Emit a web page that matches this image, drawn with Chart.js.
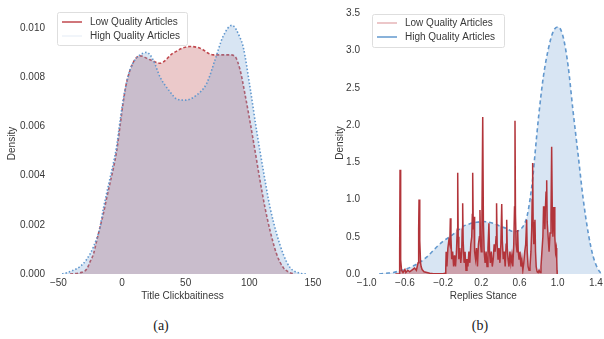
<!DOCTYPE html>
<html><head><meta charset="utf-8">
<script src="https://cdn.jsdelivr.net/npm/chart.js@4"></script>
<style>
html,body{margin:0;padding:0;background:#fff;width:604px;height:339px;overflow:hidden;}
#wa{position:absolute;left:0;top:0;width:325px;height:310px;}
#wb{position:absolute;left:330px;top:0;width:274px;height:310px;}
.cap{position:absolute;top:318px;font-family:"Liberation Serif",serif;font-size:14px;line-height:16px;color:#222;transform:translateX(-50%);}
</style></head><body>
<div id="wa"><canvas id="ca"></canvas></div>
<div id="wb"><canvas id="cb"></canvas></div>
<div class="cap" style="left:161px">(a)</div>
<div class="cap" style="left:480px">(b)</div>
<script>
// ---------- data ----------
const seriesNames = ["Low Quality Articles", "High Quality Articles"];
const xTitleA = "Title Clickbaitiness";
const xTitleB = "Replies Stance";
const yTitle = "Density";
const xTicksA = [-50, 0, 50, 100, 150];
const yTicksA = [0, 0.002, 0.004, 0.006, 0.008, 0.010];
const xTicksB = [-1.0, -0.6, -0.2, 0.2, 0.6, 1.0, 1.4];
const yTicksB = [0, 0.5, 1.0, 1.5, 2.0, 2.5, 3.0, 3.5];

// (a) Title clickbaitiness densities
const lowA = [[-40.8,0],[-33,0.00005],[-27.7,0.0002],[-25.1,0.0005],[-22.5,0.0008],[-19.9,0.00135],[-17.3,0.0019],[-14.7,0.00244],[-12,0.0031],[-9.4,0.0037],[-6.8,0.0043],[-4.2,0.005],[-1.6,0.006],[1,0.007],[3.7,0.0078],[8.9,0.0086],[14.1,0.00886],[22,0.0087],[29.9,0.00856],[40.1,0.00897],[53.4,0.00924],[61.3,0.00917],[71.5,0.0089],[84.8,0.0089],[88.8,0.00883],[92.7,0.0083],[96.6,0.0073],[100.5,0.0062],[104.5,0.005],[108.4,0.0038],[112.3,0.0027],[116.3,0.00176],[121.5,0.0008],[126.7,0.00026],[132,0.00005],[135.9,0]];
const highA = [[-47.1,0],[-43.4,0.00005],[-38.3,0.00015],[-33,0.0003],[-27.7,0.0006],[-22.5,0.0011],[-17.3,0.0019],[-14.7,0.00265],[-12,0.0033],[-9.4,0.0039],[-6.8,0.0045],[-4.2,0.0052],[-1.6,0.0062],[1,0.0071],[3.7,0.0078],[6.3,0.0083],[10.2,0.0087],[14.1,0.0089],[19.4,0.009],[24.4,0.0087],[29.9,0.008],[37.7,0.0074],[43.2,0.0071],[49.5,0.00706],[58.7,0.00727],[66.5,0.00774],[73.1,0.0087],[79.3,0.00964],[86.4,0.0101],[92.7,0.0096],[95.3,0.0092],[100.5,0.0076],[105.8,0.0058],[111,0.0042],[116.3,0.0027],[121.5,0.00163],[126.7,0.0008],[132,0.00026],[139.8,0.00003],[145.1,0]];

// (b) Replies stance densities
const lowB = [[-0.70,0],[-0.66,0],[-0.655,0.3],[-0.651,1.40],[-0.647,0.3],[-0.642,0.19],[-0.635,0.05],[-0.62,0.02],[-0.60,0.06],[-0.59,0.02],[-0.57,0.05],[-0.55,0.03],[-0.52,0.06],[-0.50,0.08],[-0.48,0.05],[-0.462,0.15],[-0.456,0.6],[-0.452,1.00],[-0.447,0.5],[-0.442,0.45],[-0.436,0.15],[-0.43,0.1],[-0.42,0.06],[-0.40,0.03],[-0.37,0.02],[-0.34,0.01],[-0.30,0.005],[-0.25,0.003],[-0.20,0.005],[-0.18,0.01],[-0.172,0.08],[-0.168,0.3],[-0.16,0.1],[-0.15,0.35],[-0.14,0.45],[-0.13,0.4],[-0.124,0.75],[-0.118,0.5],[-0.11,0.2],[-0.10,0.3],[-0.09,0.1],[-0.08,0.25],[-0.07,0.1],[-0.06,0.3],[-0.052,0.6],[-0.047,1.36],[-0.042,0.5],[-0.035,0.2],[-0.025,0.35],[-0.015,0.15],[-0.005,0.3],[0.0,0.6],[0.005,0.95],[0.01,0.45],[0.02,0.15],[0.03,0.3],[0.04,0.05],[0.05,0.2],[0.06,0.1],[0.07,0.3],[0.08,0.15],[0.09,0.4],[0.1,0.5],[0.106,0.8],[0.11,1.36],[0.116,0.6],[0.124,0.77],[0.13,0.3],[0.14,0.2],[0.15,0.35],[0.16,0.1],[0.17,0.4],[0.18,0.5],[0.186,0.86],[0.192,0.4],[0.2,0.3],[0.207,0.8],[0.215,2.11],[0.222,0.7],[0.23,0.3],[0.24,0.15],[0.25,0.3],[0.26,0.1],[0.27,0.35],[0.28,0.68],[0.286,0.3],[0.295,0.15],[0.305,0.3],[0.315,0.1],[0.325,0.2],[0.335,0.4],[0.345,0.3],[0.355,0.5],[0.36,0.95],[0.366,0.4],[0.375,0.2],[0.385,0.35],[0.395,0.15],[0.405,0.4],[0.414,0.94],[0.42,0.45],[0.43,0.2],[0.44,0.3],[0.45,0.1],[0.46,0.4],[0.466,0.73],[0.472,0.35],[0.48,0.2],[0.49,0.1],[0.5,0.3],[0.51,0.15],[0.52,0.25],[0.53,0.1],[0.54,0.4],[0.548,0.9],[0.553,2.06],[0.558,0.8],[0.565,0.4],[0.575,0.3],[0.581,0.59],[0.587,0.3],[0.595,0.2],[0.605,0.3],[0.615,0.1],[0.625,0.2],[0.635,0.05],[0.645,0.15],[0.655,0.3],[0.665,0.4],[0.675,0.73],[0.681,0.3],[0.69,0.1],[0.7,0.05],[0.71,0.1],[0.72,0.3],[0.728,0.6],[0.733,1.0],[0.738,1.49],[0.743,0.7],[0.75,0.4],[0.762,0.73],[0.768,0.3],[0.775,0.1],[0.785,0.03],[0.795,0.02],[0.805,0.05],[0.815,0.02],[0.825,0.1],[0.835,0.3],[0.845,0.5],[0.852,0.9],[0.86,0.9],[0.866,0.6],[0.872,0.9],[0.878,1.1],[0.885,1.26],[0.89,0.7],[0.9,0.5],[0.91,0.3],[0.92,0.55],[0.93,0.8],[0.937,1.71],[0.943,0.9],[0.95,0.5],[0.957,0.7],[0.964,0.9],[0.97,0.5],[0.978,0.3],[0.985,0.35],[0.99,0.2],[0.993,0.05],[0.995,0]];
const highB = [[-0.87,0],[-0.80,0.01],[-0.72,0.02],[-0.65,0.045],[-0.58,0.07],[-0.51,0.11],[-0.44,0.16],[-0.37,0.23],[-0.30,0.32],[-0.27,0.36],[-0.20,0.44],[-0.13,0.5],[-0.06,0.57],[0.01,0.64],[0.08,0.675],[0.15,0.695],[0.22,0.705],[0.26,0.70],[0.33,0.68],[0.40,0.64],[0.466,0.61],[0.52,0.575],[0.563,0.57],[0.61,0.6],[0.647,0.66],[0.68,0.78],[0.71,1.0],[0.74,1.3],[0.763,1.62],[0.80,2.11],[0.85,2.65],[0.90,3.01],[0.954,3.26],[1.006,3.32],[1.06,3.17],[1.11,2.79],[1.16,2.2],[1.216,1.58],[1.268,1.0],[1.32,0.55],[1.373,0.23],[1.44,0.03],[1.47,0.01]];

// ---------- styling ----------
const FONT = '"Liberation Sans", Arial, sans-serif';
const TXT = '#383838';
const RED = 'rgb(192,72,78)';
const BLUE = 'rgb(98,152,206)';
const toXY = arr => arr.map(p => ({x: p[0], y: p[1]}));
const fmtMinus = s => s.replace('-', '\u2212');

const boxLegend = {
  id: 'boxLegend',
  afterDatasetsDraw(chart, args, o) {
    if (!o || !o.rows) return;
    const ctx = chart.ctx;
    ctx.save();
    ctx.beginPath();
    if (ctx.roundRect) ctx.roundRect(o.x + 0.5, o.y + 0.5, o.w, o.h, 2); else ctx.rect(o.x + 0.5, o.y + 0.5, o.w, o.h);
    ctx.fillStyle = 'rgba(255,255,255,0.8)';
    ctx.fill();
    ctx.strokeStyle = '#dedede';
    ctx.lineWidth = 1;
    ctx.stroke();
    ctx.font = '10px ' + FONT;
    ctx.textBaseline = 'middle';
    o.rows.forEach((r, i) => {
      const yy = o.y + o.rowY[i];
      ctx.beginPath();
      ctx.strokeStyle = r.color;
      ctx.lineWidth = 1.5;
      ctx.moveTo(o.x + o.hx0, yy);
      ctx.lineTo(o.x + o.hx1, yy);
      ctx.stroke();
      ctx.fillStyle = TXT;
      ctx.fillText(chart.data.datasets[r.ds].label, o.x + o.tx, yy);
    });
    ctx.restore();
  }
};

function makeChart(id, c) {
  return new Chart(document.getElementById(id), {
    type: 'line',
    data: { datasets: c.datasets },
    plugins: [boxLegend],
    options: {
      responsive: true,
      maintainAspectRatio: false,
      animation: false,
      layout: { padding: c.pad },
      elements: { point: { radius: 0, hoverRadius: 0 } },
      plugins: {
        legend: { display: false },
        tooltip: { enabled: false },
        boxLegend: c.legend
      },
      scales: {
        x: {
          type: 'linear', min: c.xMin, max: c.xMax,
          grid: { display: false, drawTicks: false },
          border: { display: false },
          afterBuildTicks: s => { s.ticks = c.xTicks.map(v => ({value: v})); },
          afterFit: s => { s.height = c.xH; s.paddingLeft = 0; s.paddingRight = 0; },
          ticks: { padding: 3, color: TXT, font: { family: FONT, size: 10 }, maxRotation: 0, autoSkip: false, callback: v => c.xFmt(v) },
          title: { display: true, text: c.xTitle, color: TXT, font: { family: FONT, size: 10 }, padding: { top: 0, bottom: 0 } }
        },
        y: {
          type: 'linear', min: c.yMin, max: c.yMax,
          grid: { display: false, drawTicks: false },
          border: { display: false },
          afterBuildTicks: s => { s.ticks = c.yTicks.map(v => ({value: v})); },
          afterFit: s => { s.width = c.yW; s.paddingTop = 0; s.paddingBottom = 0; },
          ticks: { padding: 5, color: TXT, font: { family: FONT, size: 10 }, autoSkip: false, callback: v => c.yFmt(v) },
          title: { display: true, text: yTitle, color: TXT, font: { family: FONT, size: 10 }, padding: { top: c.yTitlePad, bottom: 0 } }
        }
      }
    }
  });
}

makeChart('ca', {
  pad: { top: 13, right: 10, bottom: 8, left: 0 },
  xMin: -56.6, xMax: 151.6, yMin: 0, yMax: 0.0106,
  xTicks: xTicksA, yTicks: yTicksA, xH: 28, yW: 50, yTitlePad: 6,
  xFmt: v => fmtMinus(String(Math.round(v))), yFmt: v => v.toFixed(3),
  xTitle: xTitleA,
  legend: { x: 57, y: 12, w: 130, h: 33, rowY: [10, 24], hx0: 5, hx1: 25, tx: 33,
            rows: [{ ds: 0, color: RED }, { ds: 1, color: 'rgba(98,152,206,0.12)' }] },
  datasets: [
    { label: seriesNames[0], data: toXY(lowA), order: 2, borderColor: RED, borderWidth: 1.6, borderDash: [3, 2],
      backgroundColor: 'rgba(190,75,80,0.30)', fill: 'origin', cubicInterpolationMode: 'monotone' },
    { label: seriesNames[1], data: toXY(highA), order: 1, borderColor: BLUE, borderWidth: 1.6, borderDash: [1.5, 2],
      backgroundColor: 'rgba(110,160,210,0.27)', fill: 'origin', cubicInterpolationMode: 'monotone' }
  ]
});

makeChart('cb', {
  pad: { top: 12, right: 2.4, bottom: 8, left: 0 },
  xMin: -1.018, xMax: 1.46, yMin: 0, yMax: 3.52,
  xTicks: xTicksB, yTicks: yTicksB, xH: 28, yW: 35, yTitlePad: 4,
  xFmt: v => fmtMinus(v.toFixed(1)), yFmt: v => v.toFixed(1),
  xTitle: xTitleB,
  legend: { x: 42, y: 14, w: 132, h: 33, rowY: [9, 23], hx0: 5, hx1: 25, tx: 33,
            rows: [{ ds: 0, color: 'rgba(200,90,95,0.45)' }, { ds: 1, color: BLUE }] },
  datasets: [
    { label: seriesNames[0], data: toXY(lowB), order: 1, borderColor: 'rgb(178,52,58)', borderWidth: 1.5,
      backgroundColor: 'rgba(185,60,66,0.40)', fill: 'origin', tension: 0 },
    { label: seriesNames[1], data: toXY(highB), order: 2, borderColor: BLUE, borderWidth: 1.6, borderDash: [4, 3],
      backgroundColor: 'rgba(110,160,210,0.27)', fill: 'origin', cubicInterpolationMode: 'monotone' }
  ]
});
</script>
</body></html>
